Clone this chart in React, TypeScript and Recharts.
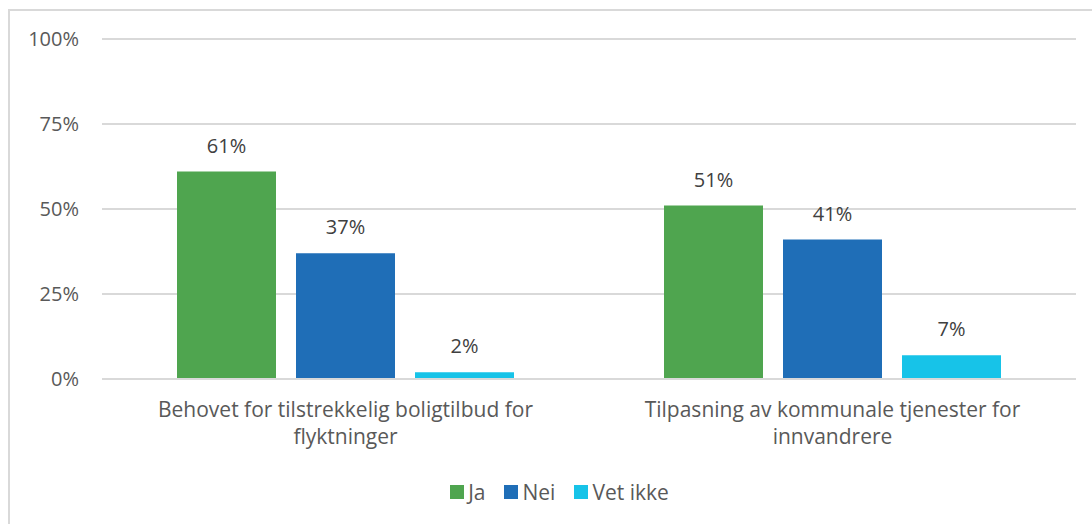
import React from 'react';
import {
  BarChart, Bar, XAxis, YAxis, CartesianGrid, Legend, LabelList,
} from 'recharts';

const categories = [
  ['Behovet for tilstrekkelig boligtilbud for', 'flyktninger'],
  ['Tilpasning av kommunale tjenester for', 'innvandrere'],
];
const ja = [0.61, 0.51];
const nei = [0.37, 0.41];
const vetIkke = [0.02, 0.07];
const yTicks = [0, 0.25, 0.5, 0.75, 1];

const series = [
  { key: 'ja', name: 'Ja', color: '#4FA54F' },
  { key: 'nei', name: 'Nei', color: '#1F6EB7' },
  { key: 'vetIkke', name: 'Vet ikke', color: '#17C3E8' },
];

const data = categories.map((c, i) => ({
  name: c.join(' '),
  idx: i,
  ja: ja[i],
  nei: nei[i],
  vetIkke: vetIkke[i],
}));

const FONT = '"Open Sans", Lato, sans-serif';
const pct = (v: number) => `${Math.round(v * 100)}%`;

function CategoryTick(props: any) {
  const { x, y, payload } = props;
  const lines = categories[payload.index] || [payload.value];
  return (
    <text x={x} y={y} textAnchor="middle" fill="#595959" fontSize={21} fontFamily={FONT}>
      {lines.map((l: string, i: number) => (
        <tspan key={i} x={x} dy={i === 0 ? 30 : 27}>{l}</tspan>
      ))}
    </text>
  );
}

function LegendContent() {
  return (
    <div style={{ display: 'flex', justifyContent: 'center', fontFamily: FONT, fontSize: 21, color: '#595959', paddingLeft: 46 }}>
      {series.map(s => (
        <span key={s.key} style={{ display: 'inline-flex', alignItems: 'center', marginRight: 19 }}>
          <span style={{ width: 14, height: 14, background: s.color, display: 'inline-block', marginRight: 4 }} />
          {s.name}
        </span>
      ))}
    </div>
  );
}

export default function App() {
  return (
    <div style={{ position: 'absolute', left: 0, top: 0, width: 1092, height: 524, overflow: 'hidden', background: '#fff' }}>
      <div style={{ position: 'absolute', left: 8, top: 9, width: 1200, height: 700, borderLeft: '2px solid #d9d9d9', borderTop: '2px solid #d9d9d9' }} />
      <div style={{ position: 'absolute', left: 0, top: 0 }}>
        <BarChart
          width={1092}
          height={524}
          data={data}
          margin={{ top: 39, right: 16, bottom: 87, left: 0 }}
          barGap={20}
          barCategoryGap={75}
        >
          <CartesianGrid vertical={false} stroke="#d9d9d9" strokeWidth={2} />
          <XAxis
            dataKey="name"
            axisLine={{ stroke: '#d9d9d9', strokeWidth: 2 }}
            tickLine={false}
            tick={<CategoryTick />}
            interval={0}
          />
          <YAxis
            width={102}
            domain={[0, 1]}
            ticks={yTicks}
            tickFormatter={pct}
            axisLine={false}
            tickLine={false}
            tickSize={6}
            tickMargin={17}
            tick={{ fill: '#595959', fontSize: 20, fontFamily: FONT }}
          />
          <Legend
            verticalAlign="bottom"
            content={<LegendContent />}
            wrapperStyle={{ left: 0, width: 1092, bottom: 18 }}
          />
          {series.map(s => (
            <Bar key={s.key} dataKey={s.key} name={s.name} fill={s.color} barSize={99} isAnimationActive={false}>
              <LabelList dataKey={s.key} position="top" offset={19} formatter={(v: any) => pct(Number(v))}
                fill="#404040" fontSize={20} fontFamily={FONT} />
            </Bar>
          ))}
        </BarChart>
      </div>
    </div>
  );
}
